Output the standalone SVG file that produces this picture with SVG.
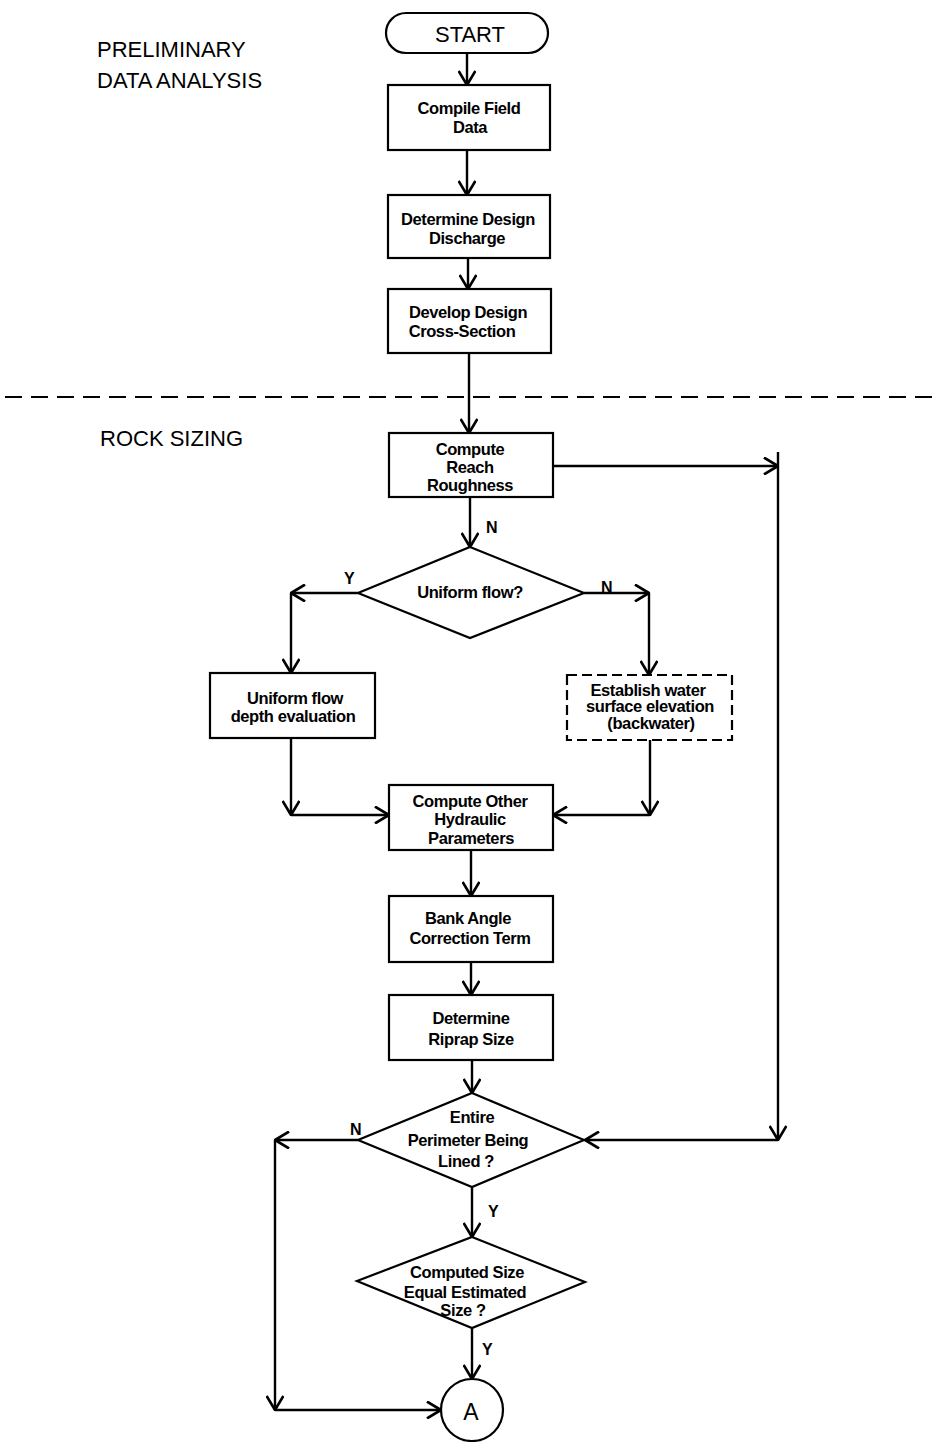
<svg xmlns="http://www.w3.org/2000/svg" width="934" height="1442" viewBox="0 0 934 1442">
<defs>
<marker id="ah" markerUnits="userSpaceOnUse" markerWidth="16" markerHeight="18" viewBox="0 0 14 16" refX="13" refY="8" orient="auto">
<path d="M0.5,0.5 L13,8 L0.5,15.5" fill="none" stroke="#000" stroke-width="2.4"/>
</marker>
<style>
.n{fill:#fff;stroke:#000;stroke-width:2.2}
.d{fill:#fff;stroke:#000;stroke-width:2.2;stroke-dasharray:10,5}
.t{font-family:"Liberation Sans",Arial,sans-serif;font-weight:bold;font-size:16.5px;letter-spacing:-0.4px;text-anchor:middle;dominant-baseline:central;fill:#000}
.h{font-family:"Liberation Sans",Arial,sans-serif;font-size:22px;fill:#000}
.l{font-family:"Liberation Sans",Arial,sans-serif;font-weight:bold;font-size:16px;fill:#000}
.c{fill:none;stroke:#000;stroke-width:2.4;marker-end:url(#ah)}
</style>
</defs>
<rect width="934" height="1442" fill="#fff"/>
<text class="h" x="97" y="57">PRELIMINARY</text>
<text class="h" x="97" y="88">DATA ANALYSIS</text>
<text class="h" x="100" y="446">ROCK SIZING</text>
<line x1="5" y1="397" x2="934" y2="397" stroke="#000" stroke-width="2.2" stroke-dasharray="17,9"/>
<g id="connectors">
<line class="c" x1="467" y1="53" x2="467" y2="85"/>
<line class="c" x1="467" y1="150" x2="467" y2="195"/>
<line class="c" x1="468" y1="258" x2="468" y2="289"/>
<line class="c" x1="469" y1="353" x2="469" y2="433"/>
<line class="c" x1="553" y1="466" x2="778" y2="466"/>
<line class="c" x1="778" y1="452" x2="778" y2="1140"/>
<line class="c" x1="778" y1="1140" x2="585" y2="1140"/>
<line class="c" x1="470" y1="497" x2="470" y2="547"/>
<line class="c" x1="358" y1="593" x2="291" y2="593"/>
<line class="c" x1="291" y1="593" x2="291" y2="673"/>
<line class="c" x1="584" y1="593" x2="649" y2="593"/>
<line class="c" x1="649" y1="593" x2="649" y2="675"/>
<line class="c" x1="291" y1="738" x2="291" y2="815"/>
<line class="c" x1="291" y1="815" x2="389" y2="815"/>
<line class="c" x1="650" y1="740" x2="650" y2="815"/>
<line class="c" x1="650" y1="815" x2="553" y2="815"/>
<line class="c" x1="471" y1="850" x2="471" y2="896"/>
<line class="c" x1="471" y1="962" x2="471" y2="995"/>
<line class="c" x1="472" y1="1060" x2="472" y2="1093"/>
<line class="c" x1="358" y1="1140" x2="275" y2="1140"/>
<line class="c" x1="275" y1="1140" x2="275" y2="1410"/>
<line class="c" x1="275" y1="1410" x2="441" y2="1410"/>
<line class="c" x1="472" y1="1187" x2="472" y2="1237"/>
<line class="c" x1="472" y1="1328" x2="472" y2="1379"/>
</g>
<g id="labels">
<text class="l" x="486" y="533">N</text>
<text class="l" x="344" y="584">Y</text>
<text class="l" x="601" y="593">N</text>
<text class="l" x="350" y="1135">N</text>
<text class="l" x="488" y="1217">Y</text>
<text class="l" x="482" y="1355">Y</text>
</g>
<g id="start">
<rect class="n" x="386" y="13" width="162" height="40" rx="20"/>
<text class="t" x="470" y="34" style="font-size:22px;font-weight:normal;letter-spacing:0">START</text>
</g>
<g id="compile">
<rect class="n" x="388" y="85" width="162" height="65"/>
<text class="t" x="469" y="108">Compile Field</text>
<text class="t" x="470" y="127">Data</text>
</g>
<g id="discharge">
<rect class="n" x="388" y="195" width="162" height="63"/>
<text class="t" x="468" y="219">Determine Design</text>
<text class="t" x="467" y="238">Discharge</text>
</g>
<g id="crosssection">
<rect class="n" x="388" y="289" width="163" height="64"/>
<text class="t" x="468" y="312">Develop Design</text>
<text class="t" x="462" y="331">Cross-Section</text>
</g>
<g id="roughness">
<rect class="n" x="389" y="433" width="164" height="64"/>
<text class="t" x="470" y="449">Compute</text>
<text class="t" x="470" y="467">Reach</text>
<text class="t" x="470" y="485">Roughness</text>
</g>
<g id="uniform">
<polygon class="n" points="470,547 584,593 470,638 358,593"/>
<text class="t" x="470" y="592">Uniform flow?</text>
</g>
<g id="depth">
<rect class="n" x="210" y="673" width="165" height="65"/>
<text class="t" x="295" y="698">Uniform flow</text>
<text class="t" x="293" y="716">depth evaluation</text>
</g>
<g id="backwater">
<rect class="d" x="567" y="675" width="165" height="65"/>
<text class="t" x="648" y="690">Establish water</text>
<text class="t" x="650" y="706">surface elevation</text>
<text class="t" x="651" y="723">(backwater)</text>
</g>
<g id="hydraulic">
<rect class="n" x="389" y="785" width="164" height="65"/>
<text class="t" x="470" y="801">Compute Other</text>
<text class="t" x="470" y="819">Hydraulic</text>
<text class="t" x="471" y="838">Parameters</text>
</g>
<g id="bankangle">
<rect class="n" x="389" y="896" width="164" height="66"/>
<text class="t" x="468" y="918">Bank Angle</text>
<text class="t" x="470" y="938">Correction Term</text>
</g>
<g id="riprap">
<rect class="n" x="389" y="995" width="164" height="65"/>
<text class="t" x="471" y="1018">Determine</text>
<text class="t" x="471" y="1039">Riprap Size</text>
</g>
<g id="perimeter">
<polygon class="n" points="472,1093 584,1140 472,1187 358,1140"/>
<text class="t" x="472" y="1117">Entire</text>
<text class="t" x="468" y="1140">Perimeter Being</text>
<text class="t" x="466" y="1161">Lined ?</text>
</g>
<g id="computedsize">
<polygon class="n" points="472,1237 585,1282 472,1328 357,1281"/>
<text class="t" x="467" y="1272">Computed Size</text>
<text class="t" x="465" y="1292">Equal Estimated</text>
<text class="t" x="463" y="1310">Size ?</text>
</g>
<g id="connectorA">
<circle class="n" cx="472" cy="1410" r="31"/>
<text class="t" x="471" y="1412" style="font-size:23px;font-weight:normal;letter-spacing:0">A</text>
</g>
</svg>
